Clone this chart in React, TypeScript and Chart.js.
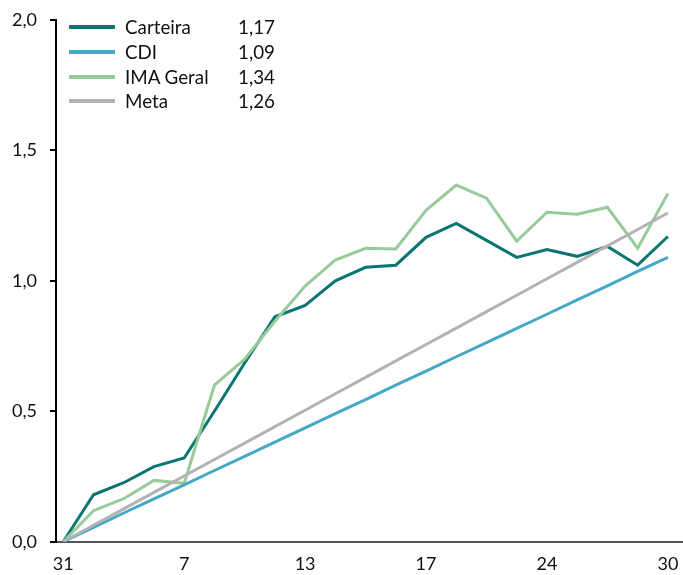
import React, { useEffect, useRef } from "react";
import { Chart, registerables } from "chart.js";

Chart.register(...registerables);

const days = ["31", "1", "3", "6", "7", "8", "9", "10", "13", "14", "15", "16", "17", "21", "22", "23", "24", "27", "28", "29", "30"];
const shownTickIdx = [0, 4, 8, 12, 16, 20];

const carteira = [0, 0.18, 0.226, 0.288, 0.321, 0.5, 0.685, 0.862, 0.906, 1.0, 1.052, 1.06, 1.167, 1.22, 1.155, 1.09, 1.12, 1.094, 1.132, 1.06, 1.17];
const cdi = [0, 0.055, 0.11, 0.164, 0.218, 0.273, 0.327, 0.382, 0.436, 0.491, 0.545, 0.6, 0.654, 0.709, 0.763, 0.818, 0.872, 0.927, 0.981, 1.036, 1.09];
const imaGeral = [0, 0.119, 0.165, 0.235, 0.224, 0.6, 0.70, 0.845, 0.98, 1.08, 1.125, 1.122, 1.27, 1.367, 1.317, 1.152, 1.263, 1.255, 1.282, 1.125, 1.335];
const meta = [0, 0.063, 0.126, 0.189, 0.252, 0.315, 0.378, 0.441, 0.504, 0.567, 0.63, 0.693, 0.756, 0.819, 0.882, 0.945, 1.008, 1.071, 1.134, 1.197, 1.26];

const seriesNames = ["Carteira", "CDI", "IMA Geral", "Meta"];
const legendValues = ["1,17", "1,09", "1,34", "1,26"];
const colors = ["#0B7570", "#45A8C4", "#98CB9C", "#B3B3B6"];
const seriesData = [carteira, cdi, imaGeral, meta];

const FONT = "Lato, 'Noto Sans', sans-serif";

export default function App() {
  const ref = useRef<HTMLCanvasElement>(null);

  useEffect(() => {
    if (!ref.current) return;
    const datasets = seriesNames.map((name, s) => ({
      label: name,
      data: seriesData[s].map((v, i) => ({ x: i, y: v })),
      borderColor: colors[s],
      backgroundColor: colors[s],
      borderWidth: 3,
      pointRadius: 0,
      tension: 0,
      fill: false,
    }));
    const ordered = [datasets[3], datasets[1], datasets[2], datasets[0]];
    const chart = new Chart(ref.current, {
      type: "line",
      data: { datasets: ordered },
      options: {
        animation: false,
        responsive: false,
        maintainAspectRatio: false,
        layout: { padding: { left: 0, top: 20, right: 0, bottom: 0 } },
        plugins: { legend: { display: false }, tooltip: { enabled: false } },
        scales: {
          x: {
            type: "linear",
            min: -0.24,
            max: 20.5,
            afterBuildTicks: (axis: any) => {
              axis.ticks = shownTickIdx.map((v) => ({ value: v }));
            },
            afterFit: (scale: any) => {
              scale.height = 33.3;
              scale.paddingLeft = 0;
              scale.paddingRight = 0;
            },
            grid: { display: false, drawTicks: false },
            border: { display: true, color: "#555555", width: 2 },
            ticks: {
              autoSkip: false,
              maxRotation: 0,
              padding: 12,
              color: "#111",
              font: { family: FONT, size: 18 },
              callback: (v: any) => days[Number(v)] ?? "",
            },
          },
          y: {
            min: 0,
            max: 2,
            afterFit: (scale: any) => {
              scale.width = 56;
              scale.paddingTop = 0;
              scale.paddingBottom = 0;
            },
            grid: { drawOnChartArea: false, drawTicks: true, tickLength: 6, color: "#000", lineWidth: 2 },
            border: { display: true, color: "#000", width: 2 },
            ticks: {
              stepSize: 0.5,
              padding: 13,
              color: "#111",
              font: { family: FONT, size: 18 },
              callback: (v: any) => Number(v).toFixed(1).replace(".", ","),
            },
          },
        },
      },
    });
    return () => chart.destroy();
  }, []);

  const rowTops = [27, 51.7, 76.7, 101];

  return (
    <div style={{ position: "absolute", left: 0, top: 0, width: 683, height: 575, background: "#fff" }}>
      <canvas ref={ref} width={683} height={575} style={{ width: 683, height: 575, display: "block" }} />
      {seriesNames.map((name, i) => (
        <div key={name} style={{ position: "absolute", left: 0, top: rowTops[i] - 12, height: 24, width: 300, fontFamily: FONT, fontSize: 18.8, color: "#111" }}>
          <div style={{ position: "absolute", left: 69, top: 10, width: 46, height: 4, background: colors[i] }} />
          <div style={{ position: "absolute", left: 125, top: 0, lineHeight: "24px" }}>{name}</div>
          <div style={{ position: "absolute", right: 300 - 275, top: 0, lineHeight: "24px", textAlign: "right" }}>{legendValues[i]}</div>
        </div>
      ))}
    </div>
  );
}
